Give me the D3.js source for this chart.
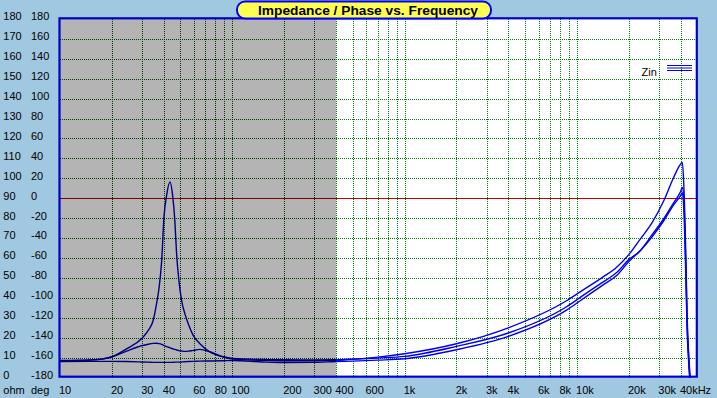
<!DOCTYPE html>
<html>
<head>
<meta charset="utf-8">
<script src="https://cdn.jsdelivr.net/npm/d3@7/dist/d3.min.js"></script>
<style>
  html, body { margin: 0; padding: 0; background: #a0c8e0; }
  svg { display: block; }
  text { font-family: 'Liberation Sans', Arial, sans-serif; }
</style>
</head>
<body>
<svg id="chart"></svg>
<script>
// frequency points (Hz) shared by the three Zin traces
const freq = [10, 15, 17.5, 20, 24.4, 29.8, 32.6, 34.8, 36.4, 37.7, 39, 40.2, 41.7, 43.6, 45.1, 46.5, 47.6, 49.1, 50.9, 53.2, 55.6, 59.4, 65, 74.3, 88.8, 101, 150, 200, 300, 400, 500, 700, 1000, 2000, 4000, 8750, 10500, 14000, 17000, 20000, 23300, 27300, 31900, 36400, 39900, 40900, 41700, 43000, 43600, 44500, 45100, 46000];
// impedance (ohm)
const zinPeak = [8.8, 9.1, 9.6, 10.8, 14.8, 19.8, 24, 29, 37.3, 45.7, 59, 80.7, 92, 98.5, 92, 79, 62.3, 49, 39, 32.3, 27.3, 21.5, 17.3, 13.2, 10.7, 9.6, 9, 8.8, 8.8, 9, 9.5, 10.6, 12.3, 17.3, 25.3, 39, 43.5, 50.5, 55.7, 62, 69.8, 78, 89, 100.7, 107.3, 108.2, 97, 55.7, 30.7, 12.3, 4, -5];
const zinHump = [8.9, 9.2, 9.6, 10.7, 13.6, 16.3, 17.1, 17.5, 17.6, 17.4, 17, 16.5, 15.9, 15.3, 14.8, 14.5, 14.2, 13.9, 13.7, 13.5, 13.6, 14, 14.5, 13.3, 10.8, 10, 9.4, 9.3, 9.2, 9.3, 9.6, 10.2, 11, 16, 22.7, 36, 40.7, 48, 53, 59.5, 64, 72, 80, 88, 93.5, 95.7, 90, 50, 28, 10, 2, -5];
const zinFlat = [8.4, 8.5, 8.5, 8.5, 8.4, 8.2, 8.1, 8, 8, 8, 8, 8, 8, 8, 8, 8.1, 8.1, 8.1, 8.2, 8.3, 8.4, 8.5, 8.6, 8.7, 8.8, 8.9, 8.2, 7.9, 8, 8.4, 8.6, 9.1, 9.8, 14.3, 21, 34.3, 39, 46.5, 51.5, 58.5, 64, 71, 79, 87, 91.5, 93, 85, 45, 24, 8, 0, -5];

const ohmTicks = [180, 170, 160, 150, 140, 130, 120, 110, 100, 90, 80, 70, 60, 50, 40, 30, 20, 10, 0];
const degTicks = [180, 160, 140, 120, 100, 80, 60, 40, 20, 0, -20, -40, -60, -80, -100, -120, -140, -160, -180];
const gridFreqs = [20, 30, 40, 50, 60, 70, 80, 90, 100, 200, 300, 400, 500, 600, 700, 800, 900, 1000, 2000, 3000, 4000, 5000, 6000, 7000, 8000, 9000, 10000, 20000, 30000, 40000];
const labelFreqs = [10, 20, 30, 40, 60, 80, 100, 200, 300, 400, 600, 1000, 2000, 3000, 4000, 6000, 8000, 10000, 20000, 30000, 40000];
const labelTexts = ['10', '20', '30', '40', '60', '80', '100', '200', '300', '400', '600', '1k', '2k', '3k', '4k', '6k', '8k', '10k', '20k', '30k', '40kHz'];
const shadeRange = [10, 400];

const W = 717;
const H = 398;
const svg = d3.select('#chart').attr('width', W).attr('height', H);
const x = d3.scaleLog().domain([10, 50000]).range([59.8, 697.4]);
const y = d3.scaleLinear().domain([0, 180]).range([378.3, 19.3]);
const px = v => Math.round(v);
const plotLeft = px(x(10)), plotRight = px(x(50000)), plotSplit = px(x(shadeRange[1]));
const plotTop = px(y(180)), plotBottom = px(y(0));

// two regions: grey band below 400 Hz, white above
const regions = [
  { id: 'lo', from: plotLeft, to: plotSplit, bg: '#b4b4b4', grid: '#003c00', zero: '#800000', curve: '#000080' },
  { id: 'hi', from: plotSplit, to: plotRight, bg: '#ffffff', grid: '#008000', zero: '#c00000', curve: '#0000f0' }
];

const defs = svg.append('defs');
regions.forEach(r => {
  defs.append('clipPath').attr('id', 'clip-' + r.id).append('rect')
    .attr('x', r.from).attr('y', plotTop).attr('width', r.to - r.from).attr('height', plotBottom - plotTop);
});

// backgrounds
svg.selectAll('.bg').data(regions).enter().append('rect')
  .attr('x', r => r.from).attr('y', plotTop).attr('width', r => r.to - r.from).attr('height', plotBottom - plotTop)
  .attr('fill', r => r.bg);

// horizontal dotted grid, one segment per region
const hTicks = ohmTicks.filter(d => d > 0 && d < 180 && d !== 90);
regions.forEach(r => {
  svg.append('g').selectAll('line').data(hTicks).enter().append('line')
    .attr('x1', r.from).attr('x2', r.to)
    .attr('y1', d => Math.floor(y(d)) + 0.5).attr('y2', d => Math.floor(y(d)) + 0.5)
    .attr('stroke', r.grid).attr('stroke-width', 1).attr('stroke-dasharray', '1 1');
});

// vertical dotted grid
svg.append('g').selectAll('line').data(gridFreqs).enter().append('line')
  .attr('x1', d => px(x(d)) + 0.5).attr('x2', d => px(x(d)) + 0.5)
  .attr('y1', plotTop).attr('y2', plotBottom)
  .attr('stroke', d => (d < shadeRange[1] ? regions[0].grid : regions[1].grid))
  .attr('stroke-width', 1).attr('stroke-dasharray', '1 1');

// 0 deg / 90 ohm line
svg.append('g').selectAll('line').data(regions).enter().append('line')
  .attr('x1', r => r.from).attr('x2', r => r.to)
  .attr('y1', Math.floor(y(90)) + 0.5).attr('y2', Math.floor(y(90)) + 0.5)
  .attr('stroke', r => r.zero).attr('stroke-width', 1);

// impedance traces, drawn per region with its own colour
const line = d3.line().x(d => x(d[0])).y(d => y(d[1])).curve(d3.curveMonotoneX);
const traces = [zinPeak, zinHump, zinFlat].map(vals => freq.map((f, i) => [f, vals[i]]));
regions.forEach(r => {
  svg.append('g').attr('clip-path', `url(#clip-${r.id})`)
    .selectAll('path').data(traces).enter().append('path')
    .attr('d', line).attr('fill', 'none').attr('stroke', r.curve).attr('stroke-width', 1.4);
});

// frame
svg.append('rect').attr('x', 59.5).attr('y', 18.3).attr('width', 637.3).attr('height', 358.4)
  .attr('fill', 'none').attr('stroke', '#0000cc').attr('stroke-width', 2.2);

// legend
svg.append('text').attr('x', 641.5).attr('y', 76).attr('font-size', 11).text('Zin');
svg.selectAll('.lg').data([65.5, 68, 70.5]).enter().append('line')
  .attr('x1', 667).attr('x2', 692).attr('y1', d => d).attr('y2', d => d)
  .attr('stroke', '#0000f0').attr('stroke-width', 1);

// left axis labels
svg.selectAll('.ohm').data(ohmTicks).enter().append('text')
  .attr('x', 3.3).attr('y', d => y(d) + 0.8).attr('font-size', 11).text(d => d);
svg.selectAll('.deg').data(degTicks).enter().append('text')
  .attr('x', 31).attr('y', (d, i) => y(ohmTicks[i]) + 0.8).attr('font-size', 11).text(d => d);
svg.append('text').attr('x', 3.3).attr('y', 393.5).attr('font-size', 11).text('ohm');
svg.append('text').attr('x', 31).attr('y', 393.5).attr('font-size', 11).text('deg');

// bottom axis labels
svg.selectAll('.fl').data(labelFreqs).enter().append('text')
  .attr('x', d => x(d) - 0.8).attr('y', 393.5).attr('font-size', 11).text((d, i) => labelTexts[i]);

// title box
svg.append('rect').attr('x', 237).attr('y', 1.5).attr('width', 254).attr('height', 17).attr('rx', 8)
  .attr('fill', '#ffff50').attr('stroke', '#0000ff').attr('stroke-width', 2);
svg.append('text').attr('x', 258).attr('y', 15).attr('font-size', 13.5).attr('font-weight', 'bold')
  .attr('textLength', 220).attr('lengthAdjust', 'spacingAndGlyphs').text('Impedance / Phase vs. Frequency');
</script>
</body>
</html>
